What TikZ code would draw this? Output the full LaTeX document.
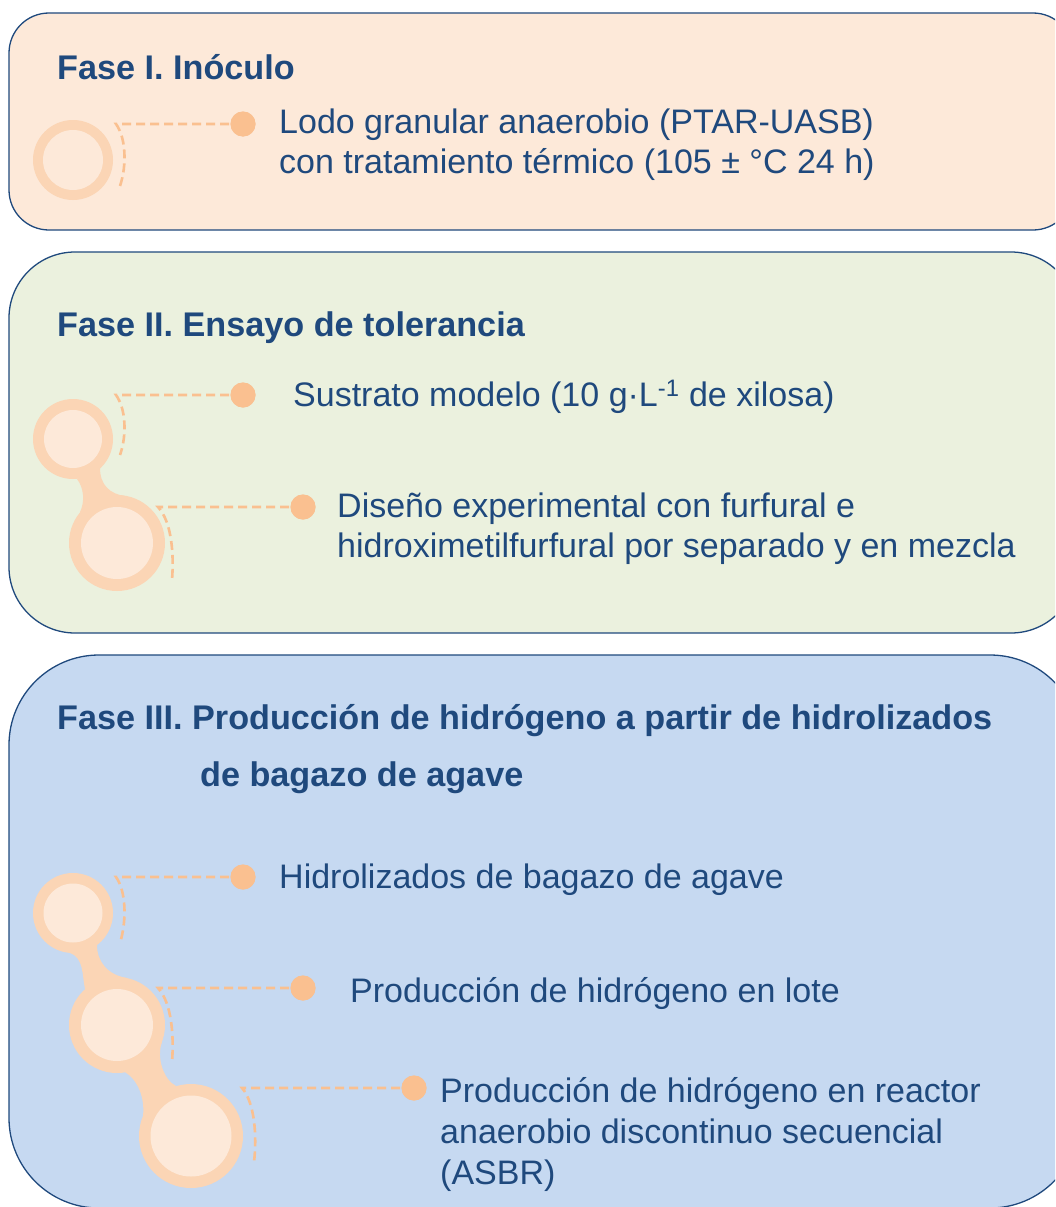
\documentclass[tikz,border=0pt]{standalone}
\usepackage{fontspec}
\setmainfont{Liberation Sans}
\definecolor{tcol}{RGB}{31,73,125}
\definecolor{fillA}{RGB}{253,233,217}
\definecolor{fillB}{RGB}{235,241,222}
\definecolor{fillC}{RGB}{198,217,241}
\definecolor{ringcol}{RGB}{251,213,181}
\definecolor{dotcol}{RGB}{250,192,144}
\definecolor{innercol}{RGB}{253,233,217}
\begin{document}
\begin{tikzpicture}[x=1pt,y=-1pt,
  box/.style={draw=tcol, line width=1.3pt},
  ttl/.style={anchor=base west, inner sep=0pt, text=tcol, font=\fontsize{34.2}{40}\selectfont\bfseries},
  body/.style={anchor=base west, inner sep=0pt, text=tcol, font=\fontsize{34}{40}\selectfont},
  dot/.style={circle, fill=dotcol, inner sep=0pt, minimum size=25pt},
  dashcon/.style={draw=dotcol, line width=2.6pt, dash pattern=on 9pt off 5pt},
  ringo/.style={fill=ringcol},
  ringi/.style={fill=innercol}]
\useasboundingbox (0,0) rectangle (1055,1207);
\clip (0,0) rectangle (1055,1207);

% ---------- boxes
\draw[box, fill=fillA, rounded corners=40pt] (9,13) rectangle (1073,230);
\draw[box, fill=fillB, rounded corners=66pt] (9,252) rectangle (1077,633);
\draw[box, fill=fillC, rounded corners=90pt] (9,655) rectangle (1080,1208);

% ---------- Fase I
\node[ttl] (t1) at (57,80) {Fase I. Inóculo};
\node[body] (l1a) at (279,133) {Lodo granular anaerobio (PTAR-UASB)};
\node[body] (l1b) at (279,173) {con tratamiento térmico (105 ± °C 24 h)};
\fill[ringo] (73,160) circle (40);
\fill[fill=fillA] (73,160) circle (30);
\node[dot] (d1) at (243,124) {};
\coordinate (b1s) at (116,124);
\coordinate (b1e) at (120,186);
\draw[dashcon] (d1.center) -- (b1s) .. controls (126,138) and (127,165) .. (b1e);
\fill[dotcol] (d1) circle (12.5);

% ---------- Fase II
\node[ttl] (t2) at (57,336) {Fase II. Ensayo de tolerancia};
\node[body] (l2a) at (293,406) {Sustrato modelo (10 g·L\textsuperscript{-1} de xilosa)};
\node[body] (l2b) at (337,517) {Diseño experimental con furfural e};
\node[body] (l2c) at (337,557) {hidroximetilfurfural por separado y en mezcla};
\fill[ringo] (77,479) .. controls (84,488) and (85,502) .. (80,512)
  -- (125,496) .. controls (110,494) and (100,485) .. (100,468) -- cycle;
\fill[ringo] (73,439) circle (40);
\fill[ringi] (73,439) circle (29);
\fill[ringo] (117,543) circle (48);
\fill[ringi] (117,543) circle (36);
\node[dot] (d2a) at (243,395) {};
\node[dot] (d2b) at (303,507) {};
\coordinate (b2as) at (116,395);
\coordinate (b2ae) at (120,455);
\coordinate (b2bs) at (158,507);
\coordinate (b2be) at (172,580);
\draw[dashcon] (d2a.center) -- (b2as) .. controls (126,409) and (127,435) .. (b2ae);
\draw[dashcon] (d2b.center) -- (b2bs) .. controls (172,522) and (174,555) .. (b2be);
\fill[dotcol] (d2a) circle (12.5);
\fill[dotcol] (d2b) circle (12.5);

% ---------- Fase III
\node[ttl] (t3a) at (57,729) {Fase III. Producción de hidrógeno a partir de hidrolizados};
\node[ttl] (t3b) at (200,786) {de bagazo de agave};
\node[body] (l3a) at (279,888) {Hidrolizados de bagazo de agave};
\node[body] (l3b) at (350,1002) {Producción de hidrógeno en lote};
\node[body] (l3c) at (440,1102) {Producción de hidrógeno en reactor};
\node[body] (l3d) at (440,1143) {anaerobio discontinuo secuencial};
\node[body] (l3e) at (440,1184) {(ASBR)};
\fill[ringo] (70,953) .. controls (84,958) and (82,975) .. (85,989)
  -- (127,978) .. controls (108,975) and (97,962) .. (97,945) -- cycle;
\fill[ringo] (125,1072) .. controls (138,1080) and (145,1098) .. (143,1116)
  -- (176,1086) .. controls (164,1080) and (156,1058) .. (162,1042) -- cycle;
\fill[ringo] (73,913) circle (40);
\fill[ringi] (73,913) circle (29.5);
\fill[ringo] (117,1025) circle (48);
\fill[ringi] (117,1025) circle (36);
\fill[ringo] (191,1136) circle (52);
\fill[ringi] (191,1136) circle (40.5);
\node[dot] (d3a) at (243,877) {};
\node[dot] (d3b) at (303,988) {};
\node[dot] (d3c) at (414,1088) {};
\coordinate (b3as) at (116,877);
\coordinate (b3ae) at (120,943);
\coordinate (b3bs) at (158,988);
\coordinate (b3be) at (172,1062);
\coordinate (b3cs) at (242,1088);
\coordinate (b3ce) at (254,1162);
\draw[dashcon] (d3a.center) -- (b3as) .. controls (126,891) and (127,920) .. (b3ae);
\draw[dashcon] (d3b.center) -- (b3bs) .. controls (172,1003) and (174,1037) .. (b3be);
\draw[dashcon] (d3c.center) -- (b3cs) .. controls (255,1103) and (257,1137) .. (b3ce);
\fill[dotcol] (d3a) circle (12.5);
\fill[dotcol] (d3b) circle (12.5);
\fill[dotcol] (d3c) circle (12.5);
\end{tikzpicture}
\end{document}
